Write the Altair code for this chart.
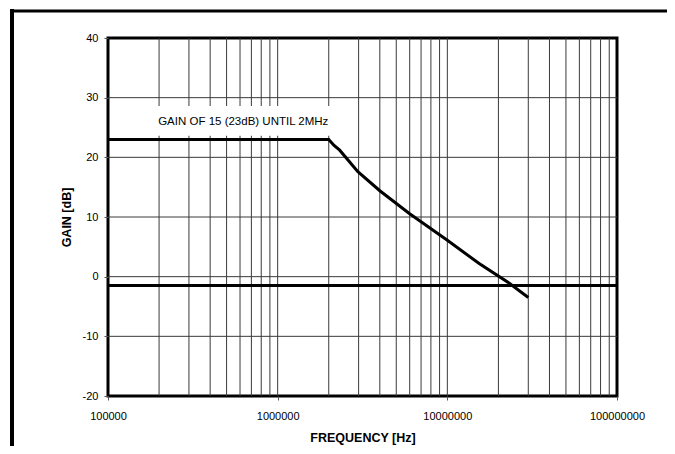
import altair as alt
import pandas as pd

# Gain curve
freq_hz = [1e5, 2e6, 2.15e6, 2.32e6, 2.97e6, 4.0e6, 5.97e6, 1.0e7, 1.54e7, 2.32e7, 3.0e7]
gain_db = [23.0, 23.0, 22.0, 21.2, 17.6, 14.4, 10.6, 6.1, 2.2, -1.1, -3.5]

# Horizontal reference line
ref_freq = [1e5, 1e8]
ref_gain = [-1.5, -1.5]

# Grid
grid_freq = [m * 10 ** e for e in (5, 6, 7) for m in range(2, 10)] + [1e6, 1e7]
grid_gain = [-10, 0, 10, 20, 30]
x_ticks = [1e5, 1e6, 1e7, 1e8]
y_ticks = [-20, -10, 0, 10, 20, 30, 40]

note_text = "GAIN OF 15 (23dB) UNTIL 2MHz"
note_freq = 6.27e5
note_gain = 25.9
note_box_freq = [1.75e5, 2.2e6]
note_box_gain = [23.6, 28.6]

FONT = "Liberation Sans"

xscale = alt.Scale(type="log", domain=[1e5, 1e8], nice=False)
yscale = alt.Scale(domain=[-20, 40], nice=False, zero=False)

curve_df = pd.DataFrame({"f": freq_hz, "g": gain_db})
ref_df = pd.DataFrame({"f": ref_freq, "g": ref_gain})
vgrid_df = pd.DataFrame({"f": grid_freq})
hgrid_df = pd.DataFrame({"g": grid_gain})
note_df = pd.DataFrame({"f": [note_freq], "g": [note_gain], "t": [note_text]})
box_df = pd.DataFrame({"f1": [note_box_freq[0]], "f2": [note_box_freq[1]],
                       "g1": [note_box_gain[0]], "g2": [note_box_gain[1]]})
one = pd.DataFrame({"a": [0]})

x_axis = alt.Axis(values=x_ticks, format="d", grid=False, domain=False,
                  tickSize=4, tickColor="#555", labelFont=FONT, labelFontSize=11,
                  labelFlush=False, labelOverlap=False,
                  labelColor="black", labelPadding=10, title="FREQUENCY [Hz]",
                  titleFont=FONT, titleFontSize=12.5, titleFontWeight="bold",
                  titleColor="black", titlePadding=10)
y_axis = alt.Axis(values=y_ticks, grid=False, domain=False, tickSize=4,
                  tickColor="#555", labelFont=FONT, labelFontSize=11,
                  labelFlush=False, labelOverlap=False,
                  labelExpr="'' + datum.value",
                  labelColor="black", labelPadding=6, title="GAIN [dB]",
                  titleFont=FONT, titleFontSize=12.5, titleFontWeight="bold",
                  titleColor="black", titlePadding=9)

vgrid = alt.Chart(vgrid_df).mark_rule(color="#3a3a3a", strokeWidth=1).encode(
    x=alt.X("f:Q", scale=xscale, axis=x_axis))
hgrid = alt.Chart(hgrid_df).mark_rule(color="#3a3a3a", strokeWidth=1).encode(
    y=alt.Y("g:Q", scale=yscale, axis=y_axis))

box = alt.Chart(box_df).mark_rect(color="white").encode(
    x=alt.X("f1:Q", scale=xscale), x2="f2:Q",
    y=alt.Y("g1:Q", scale=yscale), y2="g2:Q")

note = alt.Chart(note_df).mark_text(font=FONT, fontSize=11.5, color="black",
                                    align="center", baseline="middle").encode(
    x=alt.X("f:Q", scale=xscale), y=alt.Y("g:Q", scale=yscale), text="t:N")

ref = alt.Chart(ref_df).mark_line(color="black", strokeWidth=3).encode(
    x=alt.X("f:Q", scale=xscale), y=alt.Y("g:Q", scale=yscale))
curve = alt.Chart(curve_df).mark_line(color="black", strokeWidth=3).encode(
    x=alt.X("f:Q", scale=xscale), y=alt.Y("g:Q", scale=yscale))

frame_left = alt.Chart(one).mark_rule(color="black", strokeWidth=4).encode(
    x=alt.value(-96), y=alt.value(-29), y2=alt.value(460))
frame_top = alt.Chart(one).mark_rule(color="black", strokeWidth=3).encode(
    y=alt.value(-27), x=alt.value(-98), x2=alt.value(700))

chart = alt.layer(vgrid, hgrid, box, note, ref, curve, frame_left, frame_top).properties(
    width=509, height=358,
    autosize=alt.AutoSizeParams(type="none"),
    padding={"left": 100, "top": 30, "right": 50, "bottom": 50},
    background="white",
).configure_view(stroke="black", strokeWidth=3)

chart.save("out.html", embed_options={"renderer": "svg", "actions": False})
